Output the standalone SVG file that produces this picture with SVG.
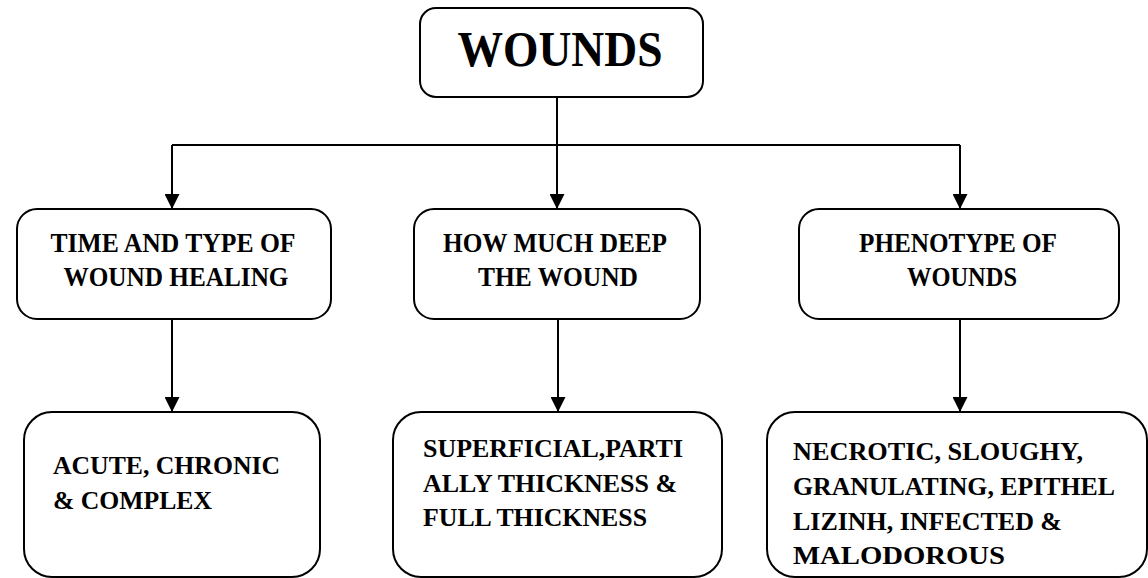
<svg xmlns="http://www.w3.org/2000/svg" width="1148" height="578" viewBox="0 0 1148 578">
<style>
.box{fill:#fff;stroke:#000;stroke-width:2}
text{font-family:'Liberation Serif','DejaVu Serif',serif;font-weight:bold;fill:#000}
.c{text-anchor:middle}
.line{fill:none;stroke:#000;stroke-width:2}
</style>
<defs>
<marker id="ah" viewBox="0 0 15 15" refX="15" refY="7.5" markerWidth="15" markerHeight="15" markerUnits="userSpaceOnUse" orient="auto">
<path d="M0,0 L15,7.5 L0,15 Z" fill="#000"/>
</marker>
</defs>
<rect width="1148" height="578" fill="#fff"/>
<g id="connectors">
<path class="line" d="M557,97 V145"/>
<path class="line" d="M172,145 H960"/>
<path class="line" d="M172,145 V209" marker-end="url(#ah)"/>
<path class="line" d="M557,145 V209" marker-end="url(#ah)"/>
<path class="line" d="M960,145 V209" marker-end="url(#ah)"/>
<path class="line" d="M172,319 V412" marker-end="url(#ah)"/>
<path class="line" d="M558,319 V412" marker-end="url(#ah)"/>
<path class="line" d="M960,319 V412" marker-end="url(#ah)"/>
</g>
<g id="wounds">
<rect class="box" x="420" y="8" width="283" height="89" rx="16"/>
<text class="c" x="560" y="66" font-size="50" textLength="205" lengthAdjust="spacingAndGlyphs">WOUNDS</text>
</g>
<g id="time-type">
<rect class="box" x="17" y="209" width="314" height="110" rx="20"/>
<text class="c" font-size="27" x="173" y="252" textLength="245" lengthAdjust="spacingAndGlyphs">TIME AND TYPE OF</text>
<text class="c" font-size="27" x="176" y="286" textLength="225" lengthAdjust="spacingAndGlyphs">WOUND HEALING</text>
</g>
<g id="how-deep">
<rect class="box" x="414" y="209" width="286" height="110" rx="20"/>
<text class="c" font-size="27" x="555" y="252" textLength="224" lengthAdjust="spacingAndGlyphs">HOW MUCH DEEP</text>
<text class="c" font-size="27" x="558" y="286" textLength="160" lengthAdjust="spacingAndGlyphs">THE WOUND</text>
</g>
<g id="phenotype">
<rect class="box" x="799" y="209" width="320" height="110" rx="20"/>
<text class="c" font-size="27" x="958" y="252" textLength="198" lengthAdjust="spacingAndGlyphs">PHENOTYPE OF</text>
<text class="c" font-size="27" x="962" y="286" textLength="110" lengthAdjust="spacingAndGlyphs">WOUNDS</text>
</g>
<g id="acute">
<rect class="box" x="24" y="412" width="296" height="165" rx="28"/>
<text font-size="26" x="53" y="474" textLength="227" lengthAdjust="spacingAndGlyphs">ACUTE, CHRONIC</text>
<text font-size="26" x="53" y="509" textLength="159" lengthAdjust="spacingAndGlyphs">&amp; COMPLEX</text>
</g>
<g id="superficial">
<rect class="box" x="393" y="412" width="329" height="165" rx="28"/>
<text font-size="26" x="423" y="457" textLength="260" lengthAdjust="spacingAndGlyphs">SUPERFICIAL,PARTI</text>
<text font-size="26" x="423" y="492" textLength="254" lengthAdjust="spacingAndGlyphs">ALLY THICKNESS &amp;</text>
<text font-size="26" x="423" y="526" textLength="224" lengthAdjust="spacingAndGlyphs">FULL THICKNESS</text>
</g>
<g id="necrotic">
<rect class="box" x="767" y="412" width="380" height="165" rx="28"/>
<text font-size="26" x="793" y="460" textLength="290" lengthAdjust="spacingAndGlyphs">NECROTIC, SLOUGHY,</text>
<text font-size="26" x="793" y="495" textLength="322" lengthAdjust="spacingAndGlyphs">GRANULATING, EPITHEL</text>
<text font-size="26" x="793" y="530" textLength="269" lengthAdjust="spacingAndGlyphs">LIZINH, INFECTED &amp;</text>
<text font-size="26" x="793" y="564" textLength="212" lengthAdjust="spacingAndGlyphs">MALODOROUS</text>
</g>
</svg>
